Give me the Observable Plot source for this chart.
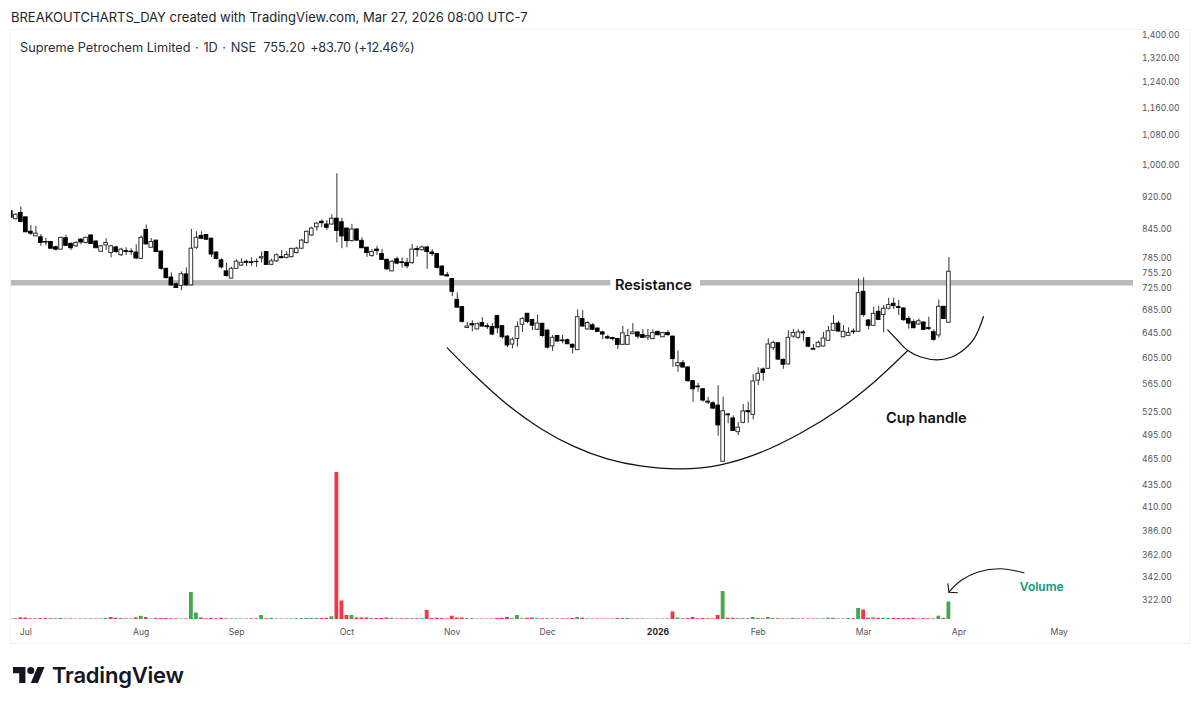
<!DOCTYPE html>
<html>
<head>
<meta charset="utf-8">
<script src="https://cdn.jsdelivr.net/npm/d3@7"></script>
<script src="https://cdn.jsdelivr.net/npm/@observablehq/plot@0.6"></script>
<style>
html,body{margin:0;padding:0;background:#fff;width:1200px;height:708px;overflow:hidden;font-family:Inter,sans-serif}
#hdr{position:absolute;left:11px;top:9px;font-size:13px;color:#1c1f26;white-space:nowrap}
#frame{position:absolute;left:10px;top:29px;width:1178px;height:613px;border:1px solid #f2f3f5}
#title{position:absolute;left:20px;top:40px;font-size:12.75px;color:#2a2e39;white-space:pre}
#title .s{margin-left:1px}
#title .c{margin-left:-2px;letter-spacing:-.3px}
.layer{position:absolute;left:0;top:29px}
#logo{position:absolute;left:13px;top:667px;width:32px;height:16px}
#brand{position:absolute;left:52px;top:662px;font-size:22px;font-weight:600;color:#131722;letter-spacing:-.2px}
</style>
</head>
<body>
<div id="hdr">BREAKOUTCHARTS_DAY created with TradingView.com, Mar 27, 2026 08:00 UTC-7</div>
<div id="frame"></div>
<div id="chart"></div>
<div id="title">Supreme Petrochem Limited<span class="s"> · </span><span class="s">1D</span><span class="s"> · </span><span class="s">NSE</span>  755.20  <span class="c">+83.70 (+12.46%)</span></div>
<svg id="logo" viewBox="0 4 36 18"><path d="M14 22H7V11H0V4h14v18zM28 22h-8l7.5-18h8L28 22z" fill="#131722"/><circle cx="20" cy="8" r="4" fill="#131722"/></svg>
<div id="brand">TradingView</div>
<script>
const open = [884,866,880,870,838,828,826,816,816,805,
800,824,812,807,821,814,830,817,795.5,809,
793,804.5,788.5,797,796,794,781,842,804,819,
796,761,744,731,728,750,729,804,829,831,
823,794,778,756,742,761,767.5,775,774,775,
782,795,769,776,784.5,783,784.5,793,802,814,
830,848,860,854,854,867,859,845,818,843,
818.5,804,787,800,791,779,756,780,774,773,
772.5,801,799,804.5,794,791,765.5,748.5,741,702,
689,652.5,659,650,661,655.5,654,673,655.5,638,
625,634,658,677,666,649.5,659.6,648,622,639,
631.6,632,624.5,616,668,650,657,651.5,645,637,
635.5,634,624.5,624.5,642,645,640.5,636.5,634,646,
637,644,638,590.8,595.4,588.8,568.2,560.3,556.4,538.7,
536.4,533.1,460.7,521,515.6,497.6,509.8,525.5,520.5,569,
585.7,586.7,619.1,627,600.5,593.5,638,636,645,635.5,
618,620.7,621.8,631,647.7,660,637,639.3,646.5,646,
716.8,665.3,656.2,680.5,675,686,694.8,688.8,686.4,668,
662.4,658.4,661.8,652.2,645.4,640,689.4,661.5];
const close = [869,876,860,837,834,834,814,815,802,800,
825,808,803,814,815,825,812,803,807,814,
807,795,800,795.5,795,782,825,811,816,795,
761,743,729,724,750.5,729,802,825,823,821,
790,781,764,747,761,775.5,773,773,772.5,774.5,
784.5,769,776,788.5,782.5,789,801.5,802,819,838,
845,856,857,847,867,840,828,818,843,819,
803,793,795,797,779,760,775,771.5,772.5,766,
800,799,804.5,795,791,763,748,746,717,688,
663,655,657,659,655,654,641.5,652,637,623.5,
633,654.5,668,663,656.5,660,639,620,636,630,
630.5,625.5,620,671,655,661,649.6,646,641.5,635,
634,624.5,643.5,639,645,638,636,639,644,640.5,
644,640.5,601.8,595.4,588.8,568.2,556.4,559.4,540.3,537.5,
529.1,506.4,525.5,520,499.3,503.5,525.1,524.1,567.7,579.2,
580.5,625.1,627.7,601,593,636,644,645,643.5,621.5,
616.8,627.8,635,647,659.6,646.5,646,644,645.4,714.4,
674.7,656.2,677,666.4,686,692.5,690.6,687.6,665.9,660,
652.2,664,649.4,651,632.7,689.4,668,755.2];
const high = [886,878,894,870,852,850,832,824,816,807,
826,831,814,817,823,826,831,819,809,823,
809,807,803,804,802,810,829,853,823.5,819,
797,762,753,733,755,763,843,838,838,832,
824,795,781,772,764,779,781,779,783,781,
795,795.5,781,791,798,796,803,805,822,839.5,
848,858,864,863,876,974.5,868,846,854.5,845,
825,805,800,807,800,781,778,784.5,783,782,
811,807,807.5,807,800,792,767,754,741,715,
689,662,665,661,670,660,660,674,656.5,640,
636,663,670,677.5,667.5,675,660.5,649.5,640,640,
640,634,626,684,683,663,660,652.5,647,640,
637,635.5,655,650,660,646,650,650,649.5,646.5,
645,648,638.5,614.4,599.5,590.3,569,565.2,556.9,545,
538.7,561.6,545,522.7,519.1,510.5,534.7,537.9,578.2,588.2,
588.2,634.3,630.5,628,601.7,648,650,649.5,648,636.5,
625,630.5,645,655,673.4,664,656.8,652.8,651,741.5,
743.4,667,688.8,690,692,705,705,700.8,687.6,672,
666.4,668,663,671,649.4,702,690,784];
const low = [869,864,858,836,830,828,807,808,801,797,
800,807,798,805,810,812,811,802,795,798,
783,793,786,788,788,779,781,810,803,794,
758,741,727,724,719,727,728,800,821,819,
784,779,761,745,741,760,765.5,765.5,765.5,764,
772.5,768,767.5,773.5,781,781,783,791,800,812,
828,839.5,847,841,852,814,802,804,816,818,
802,784,784,788,778,758,755.5,769,762,761,
770,784.5,797,760,786,761,748,746,708,687,
661,652.5,646,650,654,650,640,643,634,620,
618,621,645,660,648,648,637,618,614,629,
626,625,610,616,654,649,648,645,633,633,
630.5,617,624,624,641.5,634,635,631.6,633,639,
636.5,639,589,581.6,587.2,566.9,537.9,552.1,538.1,534.7,
527.3,492.4,460.7,508.6,498.5,493.3,508.6,509.4,513.8,561.6,
568.2,586.3,615.4,599.5,586,593,635.5,634,630.5,620.7,
616,619.6,620.7,630.5,646.5,645.4,636,638,641.6,645.4,
671,649.4,655,665.3,644.2,684,684.6,674,664,650.6,
651,656.8,648.3,648.3,630.5,636,667,661.5];
const volume = [.7,.8,1.6,1.5,.7,.7,1,.8,.7,.6,
1,.5,.6,.4,.5,.5,.5,.5,.6,1,
2,1.2,1,.6,.5,1.6,3.2,2,.5,1,
1,1,.7,.6,.5,.6,27,6.5,1.5,.7,
1.1,.6,1.2,.6,.6,.6,.5,.5,.7,.7,
4,.7,1.1,.5,.4,.5,.6,.7,.9,1,
1,1,.9,1.1,2.7,147,18.5,4,4,1.5,
1.5,1.5,1,1,1,1.5,1,.6,.7,.7,
.8,.8,.8,9,1,1.3,1,.6,3.3,1.5,
1.5,.8,.7,.5,.5,.4,.5,1,1.2,2,
.8,4,.7,1.2,1.5,.8,.7,.7,.7,.6,
.5,.6,1,2,1.3,.6,.5,.5,.5,.5,
.5,1,1,1,.6,.5,.5,.4,.4,.5,
.5,.6,7.5,1.5,.7,1,2,.7,1,.7,
.6,4,28,1.2,1.2,.8,.8,.7,2,1,
.7,2,1,.7,.5,.6,1,.7,.6,.5,
.5,.6,.7,1.2,1.2,.5,.6,1,.7,11,
9.5,1.2,1.5,1.2,1.2,1,1,1,1,1,
1.2,.5,.8,.7,.6,3.3,1.2,17.5];

const priceTicks = [1400,1320,1240,1160,1080,1000,920,845,785,755.2,725,685,645,605,565,525,495,465,435,410,386,362,342,322];
const monthBars = [3,26,45,67,88,107,149,170,189,209];
const monthLabels = ["Jul","Aug","Sep","Oct","Nov","Dec","Feb","Mar","Apr","May"];
const yearBar = 129, yearLabel = "2026";

const resistancePrice = 734;
const resistanceSpans = [[0.14,119.6],[137.5,223.8]];

const cupBar = [87,92.3,98.96,105.6,112.24,118.9,125.5,133.5,141.5,149.5,157.4,165.4,172,178.7];
const cupPrice = [619.6,578.2,534.7,502.5,479.5,464.2,455.8,452.3,457.1,472.1,496.2,529.3,566.3,614.5];
const handleBar = [174.8,176.8,178.8,181.4,184.7,187.3,189.3,192,193.9];
const handlePrice = [649.4,631.6,615.3,605,600.6,604.3,612.6,634.4,672.2];

const arrowBar = [201.95,197.3,192.7,189.4,187];
const arrowVol = [46.7,50.7,47.3,39,27.3];
const headBar = [186.8,187,188.7];
const headVol = [35.7,27.3,26.7];

const bars = close.map((c,i)=>({i,open:open[i],close:c,high:high[i],low:low[i],volume:volume[i],up:c>=open[i]}));
const volColor = d => d.i===20 ? "#f23645" : (d.up ? "#43a84a" : "#f23645");

const FONT = "Inter, sans-serif";
const xScale = {type:"linear",domain:[0.14,223.8]};
const W = 1200, H = 613;

const pricePlot = Plot.plot({
  width:W,height:H,marginLeft:11,marginRight:67,marginTop:5,marginBottom:43,
  style:{background:"transparent",fontFamily:FONT,overflow:"visible"},
  x:Object.assign({axis:null},xScale),
  y:{type:"log",domain:[322,1400]},
  marks:[
    Plot.axisY({anchor:"right",ticks:priceTicks,tickFormat:d3.format(",.2f"),tickSize:0,tickPadding:8.5,dy:1,label:null,fontSize:8.5,color:"#50535e"}),
    Plot.ruleY(resistanceSpans,{x1:d=>d[0],x2:d=>d[1],y:()=>resistancePrice,stroke:"#b9b9b9",strokeWidth:5.5}),
    Plot.ruleX(bars,{x:"i",y1:"low",y2:"high",stroke:"#333",strokeWidth:1,clip:true}),
    Plot.rect(bars,{x1:d=>d.i-.36,x2:d=>d.i+.36,y1:"open",y2:"close",fill:d=>d.up?"#ffffff":"#000000",stroke:d=>d.up?"#333":"#000",strokeWidth:1,clip:true}),
    Plot.line(cupBar.map((b,i)=>[b,cupPrice[i]]),{x:d=>d[0],y:d=>d[1],curve:"catmull-rom",stroke:"#111",strokeWidth:1.2}),
    Plot.line(handleBar.map((b,i)=>[b,handlePrice[i]]),{x:d=>d[0],y:d=>d[1],curve:"catmull-rom",stroke:"#111",strokeWidth:1.2}),
    Plot.text(["Resistance"],{x:()=>128.1,y:()=>resistancePrice,dy:3,text:d=>d,fontSize:14.5,fontWeight:600,fill:"#111"}),
    Plot.text(["Cup handle"],{x:()=>182.5,y:()=>515.5,text:d=>d,fontSize:14.7,fontWeight:600,fill:"#111"})
  ]
});
pricePlot.classList.add("layer");

const volumePlot = Plot.plot({
  width:W,height:H,marginLeft:11,marginRight:67,marginTop:5,marginBottom:23,
  style:{background:"transparent",fontFamily:FONT,overflow:"visible"},
  x:xScale,
  y:{axis:null,domain:[0,147],range:[590,443]},
  marks:[
    Plot.rect(bars,{x1:d=>d.i-.38,x2:d=>d.i+.38,y1:()=>0,y2:"volume",fill:volColor,clip:true}),
    Plot.axisX({anchor:"bottom",ticks:monthBars,tickFormat:d=>monthLabels[monthBars.indexOf(d)],tickSize:0,tickPadding:9.5,label:null,fontSize:8.6,color:"#50535e"}),
    Plot.axisX({anchor:"bottom",ticks:[yearBar],tickFormat:()=>yearLabel,tickSize:0,tickPadding:9.5,label:null,fontSize:8.6,fontWeight:"bold",color:"#222"}),
    Plot.line(arrowBar.map((b,i)=>[b,arrowVol[i]]),{x:d=>d[0],y:d=>d[1],curve:"catmull-rom",stroke:"#111",strokeWidth:1.1}),
    Plot.line(headBar.map((b,i)=>[b,headVol[i]]),{x:d=>d[0],y:d=>d[1],stroke:"#111",strokeWidth:1.1}),
    Plot.text(["Volume"],{x:()=>205.5,y:()=>32,text:d=>d,fontSize:12,fontWeight:600,fill:"#089981"})
  ]
});
volumePlot.classList.add("layer");

const host = document.getElementById("chart");
host.appendChild(pricePlot);
host.appendChild(volumePlot);
</script>
</body>
</html>
